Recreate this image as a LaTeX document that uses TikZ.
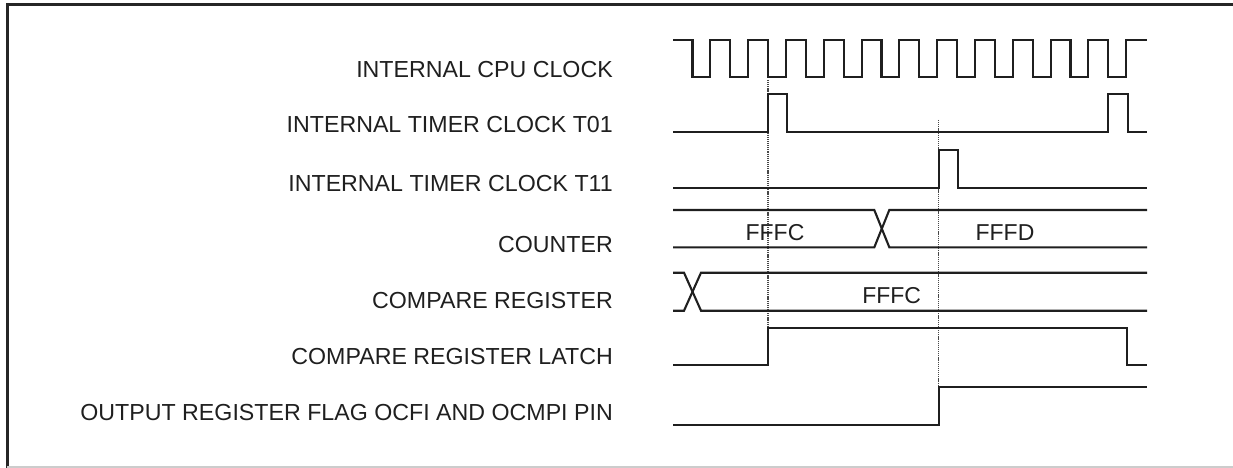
\documentclass[tikz,border=0pt]{standalone}
\usepackage{fontspec}
\setmainfont{Liberation Sans}
\begin{document}
\begin{tikzpicture}[x=1pt,y=-1pt,
  wave/.style={line width=2.1pt, black!88, line join=miter},
  guide/.style={dash pattern=on 1.2pt off 0.9pt, line width=1.8pt, black!72},
  frameline/.style={line width=2.6pt, black!85},
  lbl/.style={anchor=base east, inner sep=0pt, font=\fontsize{23.2}{27}\selectfont, text=black!88},
  val/.style={anchor=base, inner sep=0pt, font=\fontsize{23}{27}\selectfont, text=black!88}]
\useasboundingbox (0,0) rectangle (1233,468);
% frame
\coordinate (ftl) at (7.3,4.3);
\coordinate (ftr) at (1233,4.3);
\coordinate (fbl) at (7.3,468);
\draw[frameline] (ftr) -- (ftl) -- (fbl);
\draw[line width=1.5pt, black!20] (7.3,467.2) -- (1233,467.2);
% guide lines
\coordinate (g1t) at (768,80);
\coordinate (g1b) at (768,328);
\coordinate (g2t) at (938.5,120);
\coordinate (g2b) at (938.5,387);
\draw[guide] (g1t) -- (g1b);
\draw[guide] (g2t) -- (g2b);
% labels
\node[lbl] (lcpu) at (613,78) {INTERNAL CPU CLOCK};
\node[lbl] (lt01) at (613,132) {INTERNAL TIMER CLOCK T01};
\node[lbl] (lt11) at (613,191) {INTERNAL TIMER CLOCK T11};
\node[lbl] (lcnt) at (613,252) {COUNTER};
\node[lbl] (lcmp) at (613,308) {COMPARE REGISTER};
\node[lbl] (llat) at (613,364) {COMPARE REGISTER LATCH};
\node[lbl] (lout) at (613,420) {OUTPUT REGISTER FLAG OCFI AND OCMPI PIN};
% CPU clock
\draw[wave] (673,40) foreach \k in {0,...,11} {
  -- ({692.5+37.8*\k},40) -- ({692.5+37.8*\k},77) -- ({710.4+37.8*\k},77) -- ({710.4+37.8*\k},40) } -- (1147,40);
% T01
\draw[wave] (673,131.7) -- (767.7,131.7) -- (767.7,94.3) -- (786.7,94.3) -- (786.7,131.7)
  -- (1108.3,131.7) -- (1108.3,94.3) -- (1127.7,94.3) -- (1127.7,131.7) -- (1147,131.7);
% T11
\draw[wave] (673,187.7) -- (939.3,187.7) -- (939.3,150) -- (957.7,150) -- (957.7,187.7) -- (1147,187.7);
% counter
\draw[wave] (673,210) -- (874.3,210) -- (889.3,247.3) -- (1147,247.3);
\draw[wave] (673,247.3) -- (874.3,247.3) -- (889.3,210) -- (1147,210);
\node[val] (vcnt1) at (775,240) {FFFC};
\node[val] (vcnt2) at (1005,240) {FFFD};
% compare register
\draw[wave] (673,272.7) -- (684,272.7) -- (701,310.7) -- (1147,310.7);
\draw[wave] (673,310.7) -- (684,310.7) -- (701,272.7) -- (1147,272.7);
\node[val] (vcmp) at (891.7,303.5) {FFFC};
% latch
\draw[wave] (673,365) -- (767.7,365) -- (767.7,328.3) -- (1127.3,328.3) -- (1127.3,365) -- (1147,365);
% output
\draw[wave] (673,425) -- (939.3,425) -- (939.3,386.7) -- (1147,386.7);
\end{tikzpicture}
\end{document}
